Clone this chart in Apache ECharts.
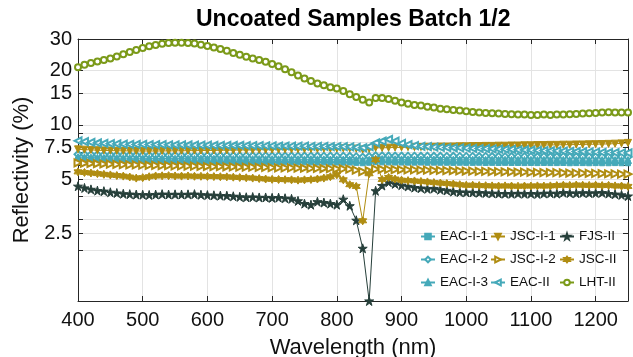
<!DOCTYPE html>
<html lang="en">
<head>
    <meta charset="UTF-8">
    <title>Uncoated Samples Batch 1/2</title>
    <script src="https://cdn.jsdelivr.net/npm/echarts@6.0.0/dist/echarts.min.js"></script>
</head>
<body style="margin:0">
<div id="main" style="width: 633px; height: 357px"></div>
</body>
<script>
    // wavelength grid (nm)
    let wavelength = [400,410,420,430,440,450,460,470,480,490,
        500,510,520,530,540,550,560,570,580,590,
        600,610,620,630,640,650,660,670,680,690,
        700,710,720,730,740,750,760,770,780,790,
        800,810,820,830,840,850,860,870,880,890,
        900,910,920,930,940,950,960,970,980,990,
        1000,1010,1020,1030,1040,1050,1060,1070,1080,1090,
        1100,1110,1120,1130,1140,1150,1160,1170,1180,1190,
        1200,1210,1220,1230,1240,1250];

    // reflectivity (%)
    let eacI1 = [6.42,6.38,6.36,6.35,6.33,6.32,6.31,6.30,6.30,6.29,
        6.28,6.28,6.27,6.27,6.26,6.26,6.25,6.26,6.25,6.24,
        6.24,6.23,6.23,6.24,6.22,6.22,6.21,6.22,6.21,6.20,
        6.20,6.21,6.20,6.19,6.19,6.20,6.19,6.18,6.19,6.18,
        6.18,6.17,6.18,6.15,6.12,6.16,6.22,6.20,6.19,6.18,
        6.18,6.17,6.17,6.18,6.16,6.17,6.16,6.16,6.15,6.16,
        6.15,6.15,6.16,6.14,6.15,6.14,6.15,6.14,6.14,6.13,
        6.14,6.13,6.14,6.13,6.13,6.14,6.12,6.13,6.13,6.12,
        6.13,6.12,6.12,6.13,6.12,6.12];
    let eacI2 = [6.86,6.84,6.83,6.82,6.81,6.80,6.80,6.79,6.79,6.78,
        6.78,6.77,6.78,6.77,6.76,6.77,6.76,6.76,6.75,6.76,
        6.75,6.75,6.74,6.75,6.74,6.74,6.73,6.74,6.73,6.73,
        6.72,6.73,6.72,6.72,6.71,6.72,6.71,6.71,6.70,6.71,
        6.70,6.70,6.69,6.66,6.62,6.67,6.74,6.73,6.72,6.71,
        6.71,6.70,6.70,6.69,6.70,6.69,6.69,6.68,6.69,6.68,
        6.68,6.68,6.67,6.68,6.67,6.67,6.66,6.67,6.66,6.66,
        6.66,6.65,6.66,6.65,6.65,6.66,6.64,6.65,6.65,6.64,
        6.65,6.64,6.64,6.65,6.64,6.64];
    let eacI3 = [6.62,6.60,6.58,6.57,6.56,6.55,6.54,6.54,6.53,6.52,
        6.52,6.51,6.51,6.50,6.50,6.49,6.50,6.49,6.48,6.49,
        6.48,6.48,6.47,6.47,6.46,6.47,6.46,6.45,6.46,6.45,
        6.45,6.44,6.45,6.44,6.44,6.43,6.44,6.43,6.43,6.42,
        6.43,6.42,6.42,6.40,6.36,6.40,6.47,6.46,6.45,6.44,
        6.43,6.43,6.42,6.42,6.41,6.42,6.41,6.41,6.40,6.41,
        6.40,6.40,6.41,6.39,6.40,6.39,6.40,6.39,6.39,6.38,
        6.39,6.38,6.39,6.38,6.38,6.39,6.37,6.38,6.38,6.37,
        6.38,6.37,6.38,6.37,6.37,6.38];
    let jscI1 = [7.31,7.28,7.26,7.23,7.21,7.20,7.18,7.17,7.17,7.16,
        7.15,7.16,7.15,7.16,7.17,7.17,7.18,7.19,7.19,7.20,
        7.21,7.21,7.22,7.23,7.23,7.25,7.25,7.26,7.28,7.28,
        7.29,7.30,7.32,7.32,7.33,7.35,7.35,7.36,7.38,7.38,
        7.39,7.41,7.41,7.38,7.30,7.36,7.46,7.45,7.47,7.49,
        7.50,7.52,7.52,7.53,7.55,7.55,7.57,7.57,7.58,7.60,
        7.60,7.62,7.62,7.64,7.64,7.66,7.66,7.68,7.68,7.70,
        7.70,7.72,7.72,7.74,7.74,7.76,7.76,7.78,7.78,7.80,
        7.81,7.82,7.84,7.86,7.89,7.94];
    let jscI2 = [6.15,6.12,6.10,6.08,6.06,6.05,6.03,6.02,6.00,5.99,
        5.97,5.96,5.95,5.94,5.93,5.92,5.91,5.90,5.89,5.88,
        5.87,5.86,5.86,5.85,5.84,5.83,5.82,5.82,5.81,5.80,
        5.78,5.77,5.77,5.76,5.75,5.74,5.73,5.73,5.72,5.71,
        5.70,5.70,5.68,5.60,5.50,5.55,5.68,5.66,5.65,5.64,
        5.63,5.62,5.62,5.61,5.60,5.59,5.58,5.57,5.56,5.55,
        5.54,5.53,5.52,5.51,5.50,5.49,5.48,5.48,5.47,5.46,
        5.45,5.44,5.43,5.43,5.42,5.41,5.40,5.39,5.39,5.38,
        5.37,5.36,5.35,5.34,5.33,5.32];
    let eacII = [8.15,8.06,7.99,7.93,7.89,7.86,7.83,7.81,7.80,7.79,
        7.78,7.77,7.76,7.76,7.75,7.74,7.74,7.73,7.72,7.72,
        7.71,7.70,7.70,7.69,7.68,7.68,7.67,7.66,7.66,7.65,
        7.64,7.63,7.63,7.62,7.61,7.61,7.60,7.60,7.59,7.58,
        7.58,7.57,7.55,7.50,7.46,7.56,7.95,8.12,8.30,8.12,
        7.90,7.76,7.66,7.60,7.56,7.53,7.50,7.48,7.46,7.45,
        7.43,7.41,7.39,7.37,7.36,7.33,7.31,7.30,7.27,7.25,
        7.24,7.22,7.20,7.18,7.17,7.15,7.12,7.11,7.09,7.07,
        7.06,7.04,7.02,7.01,6.99,6.98];
    let fjsII = [4.56,4.46,4.38,4.31,4.28,4.22,4.18,4.14,4.12,4.10,
        4.09,4.08,4.10,4.12,4.10,4.11,4.10,4.11,4.12,4.09,
        4.07,4.06,4.04,4.04,4.01,3.98,3.96,3.97,3.95,3.95,
        3.93,3.94,3.91,3.88,3.78,3.65,3.60,3.74,3.70,3.65,
        3.60,3.86,3.55,2.95,2.06,1.05,4.30,4.60,4.80,4.70,
        4.62,4.55,4.48,4.45,4.41,4.43,4.36,4.32,4.26,4.23,
        4.22,4.21,4.20,4.18,4.17,4.15,4.15,4.14,4.16,4.14,
        4.15,4.13,4.16,4.17,4.15,4.20,4.18,4.17,4.19,4.18,
        4.18,4.20,4.15,4.12,4.08,4.02];
    let jscII = [5.48,5.44,5.40,5.36,5.31,5.27,5.23,5.19,5.13,5.06,
        5.09,5.15,5.20,5.21,5.22,5.20,5.19,5.20,5.18,5.18,
        5.17,5.16,5.15,5.14,5.12,5.10,5.08,5.06,5.03,5.00,
        4.98,4.97,4.96,4.95,4.93,4.95,4.97,5.00,5.06,5.15,
        5.28,4.95,4.65,4.55,2.93,5.35,6.40,4.97,5.10,5.00,
        4.93,4.90,4.88,4.85,4.82,4.78,4.75,4.72,4.69,4.65,
        4.62,4.62,4.60,4.59,4.58,4.57,4.58,4.57,4.56,4.57,
        4.57,4.58,4.57,4.58,4.60,4.62,4.61,4.63,4.62,4.61,
        4.62,4.60,4.61,4.58,4.57,4.55];
    let lhtII = [20.9,21.6,22.1,22.5,22.9,23.4,24.0,24.7,25.4,26.1,
        26.7,27.3,27.8,28.2,28.5,28.6,28.6,28.5,28.3,27.9,
        27.4,26.9,26.4,25.8,25.1,24.5,23.9,23.4,22.9,22.4,
        21.8,21.2,20.4,19.6,18.8,18.1,17.5,17.0,16.6,16.2,
        15.9,15.4,14.8,14.3,13.8,13.3,14.1,14.1,13.9,13.6,
        13.3,13.1,12.9,12.8,12.6,12.5,12.3,12.2,12.1,12.0,
        11.9,11.8,11.7,11.65,11.6,11.55,11.5,11.45,11.4,11.4,
        11.35,11.35,11.4,11.35,11.4,11.4,11.45,11.5,11.55,11.6,
        11.65,11.7,11.75,11.7,11.7,11.7];

    let yTicks = [2, 2.5, 3, 4, 5, 6, 7, 7.5, 8, 9, 10, 15, 20, 30];
    let yLabels = [2.5, 5, 7.5, 10, 15, 20, 30];
    let yMin = 1.05, yMax = 30;

    const TEAL = '#45a9b9';
    const GOLD = '#b08d12';
    const DARK = '#263f3a';
    const OLIVE = '#7b9a19';
    const PENTA = 'path://M50,0L61.2,34.5L97.6,34.5L68.2,55.9L79.4,90.5L50,69.1L20.6,90.5L31.8,55.9L2.4,34.5L38.8,34.5Z';
    const HEXA = 'path://M50,0L64.4,25L93.3,25L78.9,50L93.3,75L64.4,75L50,100L35.6,75L6.7,75L21.1,50L6.7,25L35.6,25Z';

    // log axis done by hand: values go in as log10
    function mk(name, vals, color, symbol, rotate, size) {
        return {
            name: name,
            type: 'line',
            data: wavelength.map((w, i) => [w, Math.log10(vals[i])]),
            symbol: symbol,
            symbolRotate: rotate || 0,
            symbolSize: size || 6,
            showAllSymbol: true,
            lineStyle: {width: 1, color: color},
            itemStyle: {color: color, borderColor: color, borderWidth: 1},
            emphasis: {disabled: true},
            animation: false
        };
    }

    let series = [
        mk('EAC-I-1', eacI1, TEAL, 'rect', 0, 5),
        mk('EAC-I-2', eacI2, TEAL, 'emptyDiamond', 0, 7),
        mk('EAC-I-3', eacI3, TEAL, 'triangle', 0, 7),
        mk('JSC-I-1', jscI1, GOLD, 'triangle', 180, 7),
        mk('JSC-I-2', jscI2, GOLD, 'emptyTriangle', -90, 7),
        mk('EAC-II', eacII, TEAL, 'emptyTriangle', 90, 7),
        mk('FJS-II', fjsII, DARK, PENTA, 0, 9),
        mk('JSC-II', jscII, GOLD, HEXA, 0, 8),
        mk('LHT-II', lhtII, OLIVE, 'emptyCircle', 0, 6)
    ];

    let font = 'Liberation Sans, Arial, Helvetica, sans-serif';
    let legendBase = {
        orient: 'vertical',
        top: 229,
        itemWidth: 14,
        itemHeight: 7,
        itemGap: 8,
        padding: 0,
        textStyle: {fontFamily: font, fontSize: 13.5, color: '#111', lineHeight: 15}
    };

    let myChart = echarts.init(document.getElementById('main'));
    let option = {
        backgroundColor: '#fff',
        title: {
            text: 'Uncoated Samples Batch 1/2',
            left: 196,
            top: 8,
            padding: 0,
            textStyle: {fontFamily: font, fontSize: 23, fontWeight: 'bold', color: '#000'}
        },
        legend: [
            Object.assign({left: 420, data: ['EAC-I-1', 'EAC-I-2', 'EAC-I-3']}, legendBase),
            Object.assign({left: 490, data: ['JSC-I-1', 'JSC-I-2', 'EAC-II']}, legendBase),
            Object.assign({left: 559, data: ['FJS-II', 'JSC-II', 'LHT-II']}, legendBase)
        ],
        grid: {left: 78, right: 5, top: 39, bottom: 56, outerBoundsMode: 'none'},
        xAxis: [{
            type: 'value',
            min: 400,
            max: 1250,
            interval: 100,
            name: 'Wavelength (nm)',
            nameLocation: 'middle',
            nameGap: 36,
            nameTextStyle: {fontFamily: font, fontSize: 22, color: '#111'},
            axisLine: {lineStyle: {color: '#262626', width: 1}},
            axisTick: {inside: true, length: 5, lineStyle: {color: '#262626'}},
            axisLabel: {fontFamily: font, fontSize: 20, color: '#111', margin: 9, showMaxLabel: false,
                formatter: v => String(v)},
            splitLine: {show: true, lineStyle: {color: '#e3e3e3', width: 1}}
        }, {
            type: 'value',
            position: 'top',
            min: 400,
            max: 1250,
            interval: 100,
            axisLine: {lineStyle: {color: '#262626', width: 1}},
            axisTick: {inside: true, length: 5, lineStyle: {color: '#262626'}},
            axisLabel: {show: false},
            splitLine: {show: false}
        }],
        yAxis: [{
            type: 'value',
            min: Math.log10(yMin),
            max: Math.log10(yMax),
            name: 'Reflectivity (%)',
            nameLocation: 'middle',
            nameGap: 38,
            nameTextStyle: {fontFamily: font, fontSize: 22, color: '#111'},
            axisLine: {show: true, lineStyle: {color: '#262626', width: 1}},
            axisTick: {show: true, inside: true, length: 5, lineStyle: {color: '#262626'},
                customValues: yTicks.map(v => Math.log10(v))},
            axisLabel: {fontFamily: font, fontSize: 20, color: '#111', margin: 6,
                customValues: yLabels.map(v => Math.log10(v)),
                formatter: v => String(Math.round(Math.pow(10, v) * 10) / 10)},
            splitLine: {show: true, lineStyle: {color: '#e3e3e3', width: 1}}
        }, {
            type: 'value',
            position: 'right',
            min: Math.log10(yMin),
            max: Math.log10(yMax),
            axisLine: {show: true, lineStyle: {color: '#262626', width: 1}},
            axisTick: {show: true, inside: true, length: 5, lineStyle: {color: '#262626'},
                customValues: yTicks.map(v => Math.log10(v))},
            axisLabel: {show: false},
            splitLine: {show: false}
        }],
        series: series
    };
    myChart.setOption(option);
</script>
</html>
